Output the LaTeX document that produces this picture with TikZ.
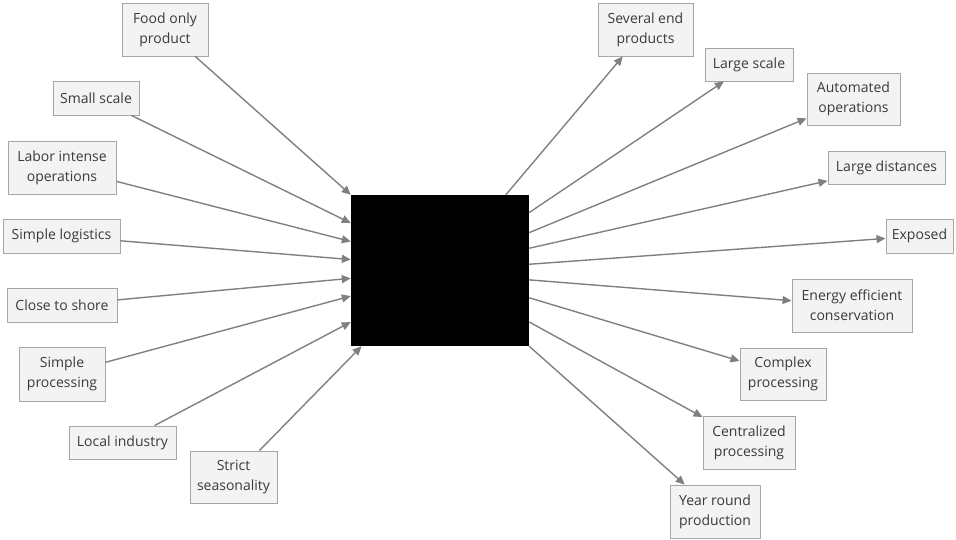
\documentclass[tikz,border=0pt]{standalone}
\usepackage{fontspec}
\setmainfont{Open Sans}
\usepackage{xcolor}
\usepackage{tikz}
\usetikzlibrary{arrows.meta,positioning,calc}

\definecolor{boxfill}{HTML}{F3F3F3}
\definecolor{boxline}{HTML}{A6A6A6}
\definecolor{boxtext}{HTML}{3A3A3A}
\definecolor{linkgray}{HTML}{808080}

\begin{document}
\begin{tikzpicture}[x=1pt,y=-1pt,
    factor/.style={draw=boxline, fill=boxfill, text=boxtext, align=center,
        inner sep=0pt, line width=0.9pt,
        font=\fontsize{14}{20}\selectfont},
    link/.style={draw=linkgray, line width=1.4pt,
        -{Triangle[width=8pt,length=9pt]}}]
    \useasboundingbox (0,0) rectangle (956,540);

    % Centre block
    \node[fill=black, minimum width=178pt, minimum height=151pt, inner sep=0pt] (core) at (440,270.5) {};

    % Left factors
    \node[factor, minimum width=86pt, minimum height=53pt] (food) at (165,29.5) {Food only\\product};
    \node[factor, minimum width=86pt, minimum height=34pt] (small) at (96,98) {Small scale};
    \node[factor, minimum width=108pt, minimum height=53pt] (labor) at (62,167.5) {Labor intense\\operations};
    \node[factor, minimum width=117pt, minimum height=34pt] (logist) at (61.5,236) {Simple logistics};
    \node[factor, minimum width=110pt, minimum height=34pt] (shore) at (62,305) {Close to shore};
    \node[factor, minimum width=86pt, minimum height=54pt] (simproc) at (62,374) {Simple\\processing};
    \node[factor, minimum width=107pt, minimum height=33pt] (local) at (122.5,442.5) {Local industry};
    \node[factor, minimum width=87pt, minimum height=52pt] (strict) at (233.5,477) {Strict\\seasonality};

    % Right factors
    \node[factor, minimum width=95pt, minimum height=53pt] (several) at (645.5,29.5) {Several end\\products};
    \node[factor, minimum width=88pt, minimum height=33pt] (large) at (749,64.5) {Large scale};
    \node[factor, minimum width=93pt, minimum height=52pt] (auto) at (853.5,99) {Automated\\operations};
    \node[factor, minimum width=117pt, minimum height=33pt] (dist) at (886.5,167.5) {Large distances};
    \node[factor, minimum width=67pt, minimum height=34pt] (exposed) at (919.5,236) {Exposed};
    \node[factor, minimum width=120pt, minimum height=53pt] (energy) at (852,305.5) {Energy efficient\\conservation};
    \node[factor, minimum width=86pt, minimum height=52pt] (complex) at (783,374) {Complex\\processing};
    \node[factor, minimum width=92pt, minimum height=53pt] (central) at (749,442.5) {Centralized\\processing};
    \node[factor, minimum width=90pt, minimum height=53pt] (year) at (715,511.5) {Year round\\production};

    % Arrows into the block
    \draw[link] (food) -- (core.north west);
    \draw[link] (small) -- (core.152.4);
    \draw[link] (labor) -- (core.162.8);
    \draw[link] (logist) -- (core.173.9);
    \draw[link] (shore) -- (core.185.5);
    \draw[link] (simproc) -- (core.196);
    \draw[link] (local) -- (core.210.1);
    \draw[link] (strict) -- (core.224.8);

    % Arrows out of the block
    \draw[link] (core.49.3) -- (several);
    \draw[link] (core.33.9) -- (large);
    \draw[link] (core.23.6) -- (auto);
    \draw[link] (core.14) -- (dist);
    \draw[link] (core.4.2) -- (exposed);
    \draw[link] (core.354.7) -- (energy);
    \draw[link] (core.343.6) -- (complex);
    \draw[link] (core.330.9) -- (central);
    \draw[link] (core.south east) -- (year);
\end{tikzpicture}
\end{document}
